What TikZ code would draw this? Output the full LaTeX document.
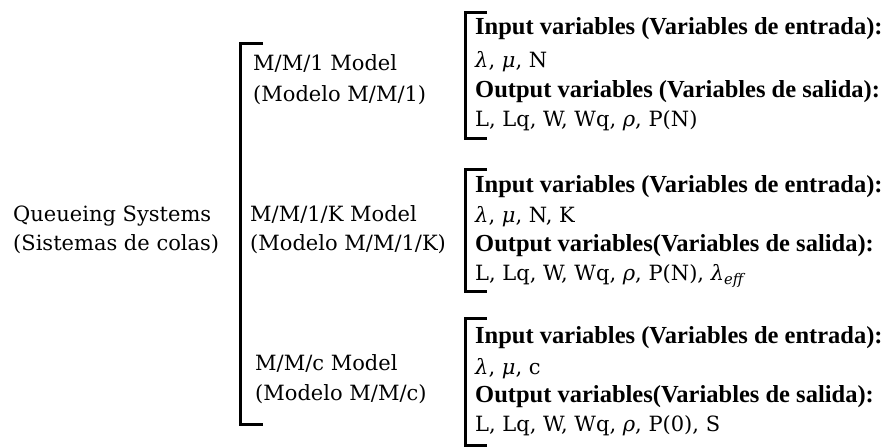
\documentclass[tikz,border=0pt]{standalone}
\usepackage{fontspec}
\setmainfont{DejaVu Serif}
\newfontfamily\hdfont{Liberation Serif}
\begin{document}
\begin{tikzpicture}[x=1pt,y=-1pt,
  txt/.style={anchor=base west, inner sep=0pt, font=\fontsize{21}{25}\selectfont},
  hd/.style={anchor=base west, inner sep=0pt, font=\hdfont\bfseries\fontsize{24.5}{28}\selectfont},
  brk/.style={line width=3pt, line cap=butt, line join=miter}]
\useasboundingbox (0,0) rectangle (891,447);
% left
\node[txt] (qs) at (13,221) {Queueing Systems};
\node[txt] (sc) at (13,250) {(Sistemas de colas)};
% big bracket
\coordinate (bt) at (263,43);
\coordinate (bb) at (263,424);
\draw[brk] (bt) -- (240,43) -- (240,424) -- (bb);
% models
\node[txt] (m1a) at (253,70) {M/M/1 Model};
\node[txt] (m1b) at (253,101) {(Modelo M/M/1)};
\node[txt] (m2a) at (250,221) {M/M/1/K Model};
\node[txt] (m2b) at (250,250) {(Modelo M/M/1/K)};
\node[txt] (m3a) at (255,370) {M/M/c Model};
\node[txt] (m3b) at (255,400) {(Modelo M/M/c)};
% block 1
\coordinate (b1t) at (487,12);
\coordinate (b1b) at (487,138);
\draw[brk] (b1t) -- (465,12) -- (465,138) -- (b1b);
\node[hd] (in1) at (475,34) {Input variables (Variables de entrada):};
\node[txt] (v1) at (475,67) {\textit{λ}, \textit{μ}, N};
\node[hd] (out1) at (475,97) {Output variables (Variables de salida):};
\node[txt] (r1) at (475,126) {L, Lq, W, Wq, \textit{ρ}, P(N)};
% block 2
\coordinate (b2t) at (487,169);
\coordinate (b2b) at (487,291);
\draw[brk] (b2t) -- (465,169) -- (465,291) -- (b2b);
\node[hd] (in2) at (475,192) {Input variables (Variables de entrada):};
\node[txt] (v2) at (475,222) {\textit{λ}, \textit{μ}, N, K};
\node[hd] (out2) at (475,251) {Output variables(Variables de salida):};
\node[txt] (r2) at (475,280) {L, Lq, W, Wq, \textit{ρ}, P(N), \textit{λ}\textsubscript{\textit{eff}}};
% block 3
\coordinate (b3t) at (487,318);
\coordinate (b3b) at (487,445);
\draw[brk] (b3t) -- (465,318) -- (465,445) -- (b3b);
\node[hd] (in3) at (475,343) {Input variables (Variables de entrada):};
\node[txt] (v3) at (475,374) {\textit{λ}, \textit{μ}, c};
\node[hd] (out3) at (475,402) {Output variables(Variables de salida):};
\node[txt] (r3) at (475,431) {L, Lq, W, Wq, \textit{ρ}, P(0), S};
\end{tikzpicture}
\end{document}
